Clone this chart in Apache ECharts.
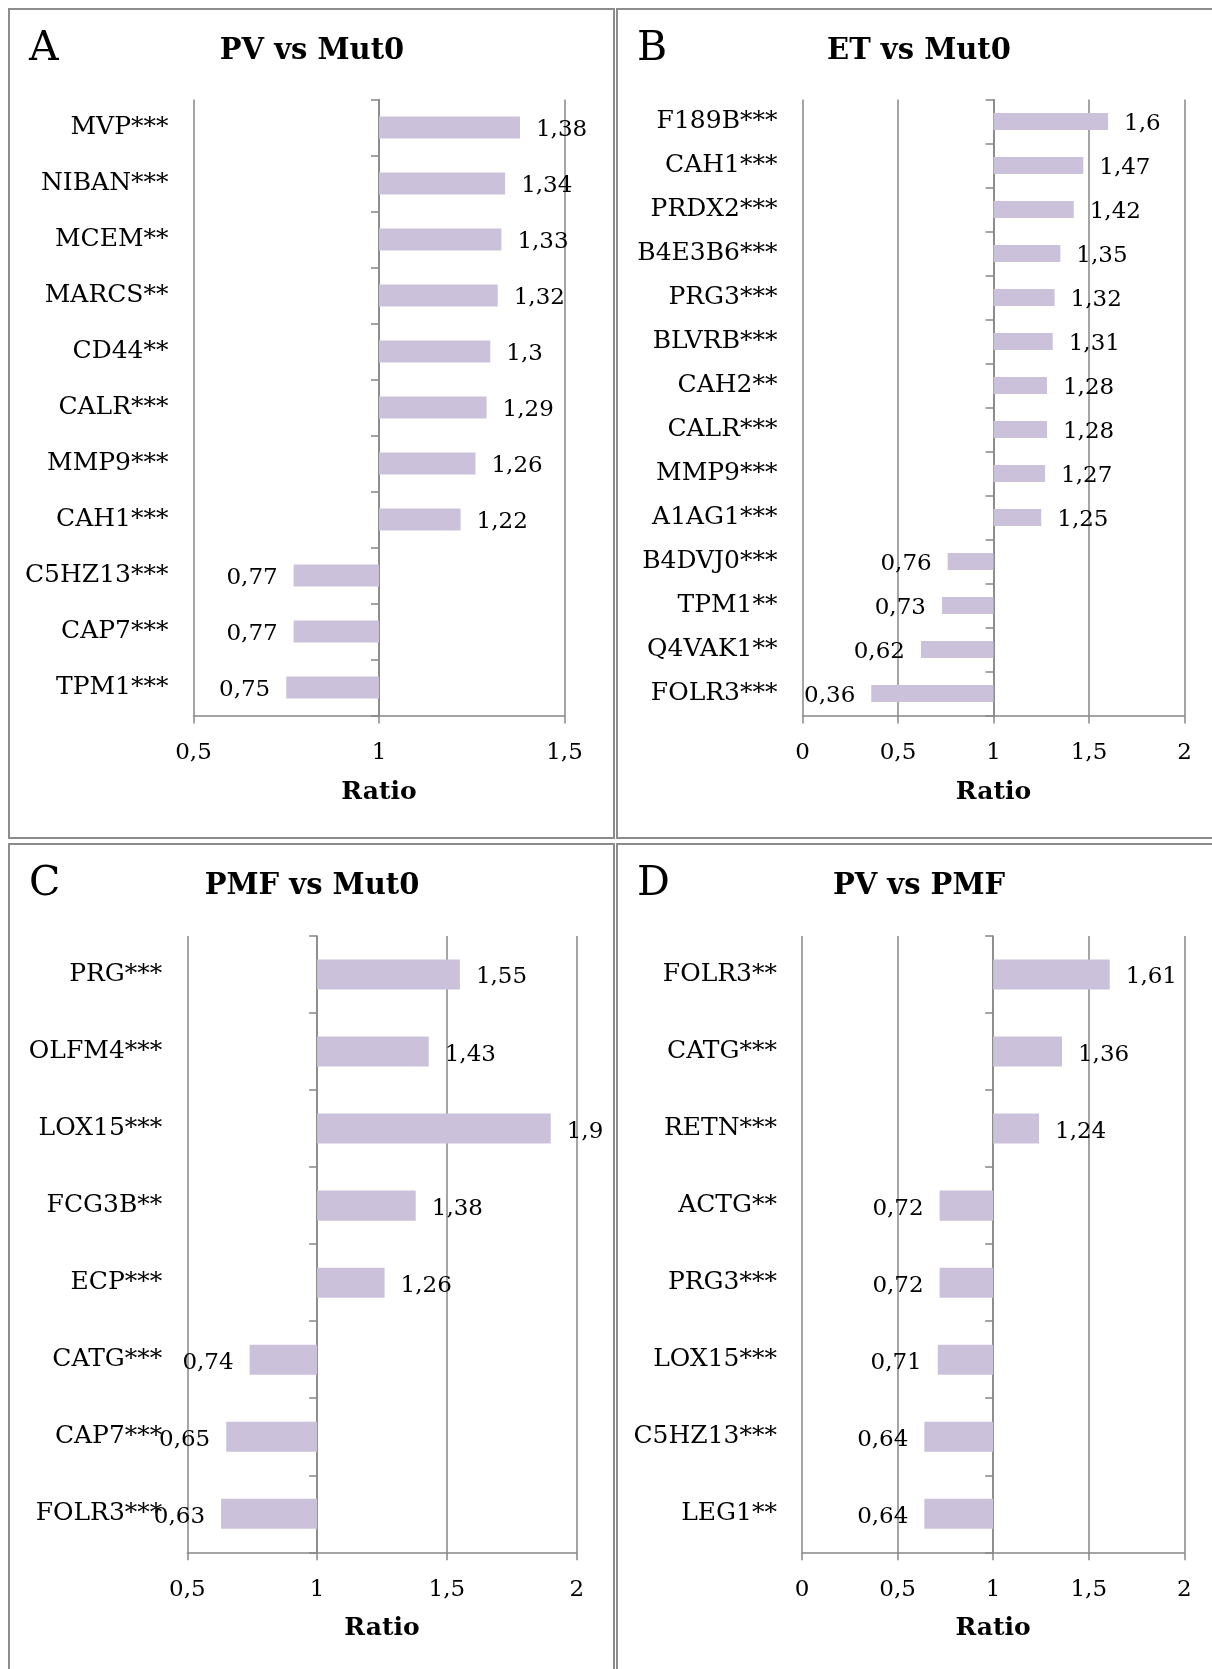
<!DOCTYPE html>
<html>
<head>
<meta charset="utf-8">
<script src="https://cdn.jsdelivr.net/npm/echarts@6/dist/echarts.min.js"></script>
<style>
html,body{margin:0;padding:0;background:#fff;}
#chart{width:1212px;height:1669px;}
</style>
</head>
<body>
<div id="chart"></div>
<script>
// ---- Data ----
const panelLetters = ['A', 'B', 'C', 'D'];
const panelTitles = ['PV vs Mut0', 'ET vs Mut0', 'PMF vs Mut0', 'PV vs PMF'];

const catsA = ['MVP***', 'NIBAN***', 'MCEM**', 'MARCS**', 'CD44**', 'CALR***', 'MMP9***', 'CAH1***', 'C5HZ13***', 'CAP7***', 'TPM1***'];
const valsA = [1.38, 1.34, 1.33, 1.32, 1.3, 1.29, 1.26, 1.22, 0.77, 0.77, 0.75];

const catsB = ['F189B***', 'CAH1***', 'PRDX2***', 'B4E3B6***', 'PRG3***', 'BLVRB***', 'CAH2**', 'CALR***', 'MMP9***', 'A1AG1***', 'B4DVJ0***', 'TPM1**', 'Q4VAK1**', 'FOLR3***'];
const valsB = [1.6, 1.47, 1.42, 1.35, 1.32, 1.31, 1.28, 1.28, 1.27, 1.25, 0.76, 0.73, 0.62, 0.36];

const catsC = ['PRG***', 'OLFM4***', 'LOX15***', 'FCG3B**', 'ECP***', 'CATG***', 'CAP7***', 'FOLR3***'];
const valsC = [1.55, 1.43, 1.9, 1.38, 1.26, 0.74, 0.65, 0.63];

const catsD = ['FOLR3**', 'CATG***', 'RETN***', 'ACTG**', 'PRG3***', 'LOX15***', 'C5HZ13***', 'LEG1**'];
const valsD = [1.61, 1.36, 1.24, 0.72, 0.72, 0.71, 0.64, 0.64];

const axisMins = [0.5, 0, 0.5, 0];
const axisMaxs = [1.5, 2, 2, 2];
const axisInterval = 0.5;
const baseline = 1;           // bars grow from ratio = 1
const axisName = 'Ratio';

// ---- Layout / style ----
const allCats = [catsA, catsB, catsC, catsD];
const allVals = [valsA, valsB, valsC, valsD];
const grids = [
  {left: 193.5, top: 99.5, width: 371, height: 616},
  {left: 802.5, top: 99.5, width: 382, height: 616},
  {left: 187.3, top: 936, width: 389.4, height: 616.3},
  {left: 802, top: 936, width: 382.3, height: 616.3}
];
const panels = [
  {x: 9, y: 9, w: 605, h: 829},
  {x: 617, y: 9, w: 606, h: 829},
  {x: 9, y: 844, w: 605, h: 832},
  {x: 617, y: 844, w: 606, h: 832}
];
const FONT = '"DejaVu Serif", "Liberation Serif", serif';
const LINE = '#878787';
const BAR = '#ccc1da';
const fmt = v => String(v).replace('.', ',');

const chart = echarts.init(document.getElementById('chart'), null, {renderer: 'canvas'});

const xAxes = [], yAxes = [], series = [], graphics = [];

for (let i = 0; i < 4; i++) {
  const g = grids[i];
  xAxes.push({
    gridIndex: i, type: 'value', position: 'bottom',
    min: axisMins[i], max: axisMaxs[i], interval: axisInterval,
    axisLine: {show: true, lineStyle: {color: LINE, width: 1.5}},
    axisTick: {show: true, length: 8, lineStyle: {color: LINE, width: 1.5}},
    splitLine: {show: true, lineStyle: {color: LINE, width: 1.5}},
    axisLabel: {formatter: v => fmt(v), fontFamily: FONT, fontSize: 23, color: '#000', margin: 26},
    name: axisName, nameLocation: 'middle', nameGap: 64,
    nameTextStyle: {fontFamily: FONT, fontWeight: 'bold', fontSize: 25, color: '#000'}
  });
  // category labels at the left edge
  yAxes.push({
    gridIndex: i, type: 'category', data: allCats[i], inverse: true, position: 'left',
    axisLine: {show: false}, axisTick: {show: false}, splitLine: {show: false},
    axisLabel: {interval: 0, fontFamily: FONT, fontSize: 25, color: '#000', margin: 25, padding: [4, 0, 0, 0]}
  });
  // category axis line crossing at ratio = 1
  const off = -((baseline - axisMins[i]) / (axisMaxs[i] - axisMins[i])) * g.width;
  yAxes.push({
    gridIndex: i, type: 'category', data: allCats[i], inverse: true, position: 'left', offset: off,
    axisLine: {show: true, lineStyle: {color: LINE, width: 1.5}},
    axisTick: {show: true, length: 8, lineStyle: {color: LINE, width: 1.5}},
    axisLabel: {show: false}, splitLine: {show: false}
  });
  series.push({
    type: 'custom', xAxisIndex: i, yAxisIndex: i * 2, clip: false, z: 5,
    encode: {x: 0, y: 1},
    data: allVals[i].map((v, k) => [v, k]),
    renderItem: function (params, api) {
      const v = api.value(0), k = api.value(1);
      const p0 = api.coord([baseline, k]);
      const p1 = api.coord([v, k]);
      const band = api.size([0, 1])[1];
      const h = band * 0.39;
      const x0 = Math.min(p0[0], p1[0]);
      const w = Math.abs(p1[0] - p0[0]);
      const right = v >= baseline;
      return {
        type: 'group',
        children: [
          {type: 'rect', shape: {x: x0, y: p0[1] - h / 2, width: w, height: h}, style: {fill: BAR}},
          {type: 'text', z2: 10, style: {
            text: fmt(v), x: right ? p1[0] + 16 : p1[0] - 16, y: p1[1] + 3,
            align: right ? 'left' : 'right', verticalAlign: 'middle',
            font: '23px ' + FONT, fill: '#000'}}
        ]
      };
    }
  });
  const p = panels[i];
  graphics.push({type: 'rect', shape: {x: p.x, y: p.y, width: p.w, height: p.h},
    style: {fill: null, stroke: '#8c8c8c', lineWidth: 2}, z: 100});
  graphics.push({type: 'text', x: p.x + 20, y: p.y + 40,
    style: {text: panelLetters[i], font: '41px ' + FONT, fill: '#000', verticalAlign: 'middle', align: 'left'}});
  graphics.push({type: 'text', x: p.x + (i % 2 === 0 ? 303 : 302), y: p.y + 42,
    style: {text: panelTitles[i], font: 'bold 29px ' + FONT, fill: '#000', verticalAlign: 'middle', align: 'center'}});
}

chart.setOption({
  animation: false,
  backgroundColor: '#fff',
  grid: grids,
  xAxis: xAxes,
  yAxis: yAxes,
  series: series,
  graphic: graphics
});
</script>
</body>
</html>
